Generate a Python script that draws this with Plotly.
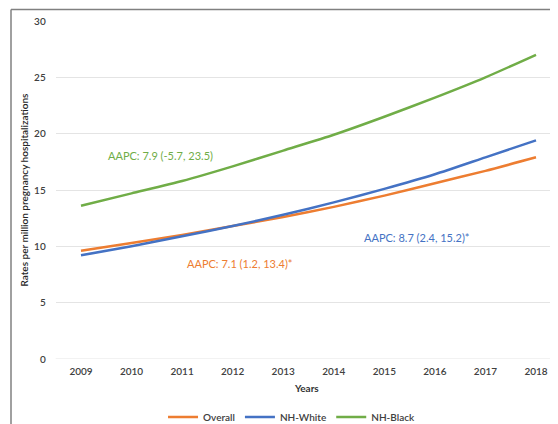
import plotly.graph_objects as go

years = [2009, 2010, 2011, 2012, 2013, 2014, 2015, 2016, 2017, 2018]
overall = [9.6, 10.3, 11.0, 11.8, 12.6, 13.5, 14.5, 15.6, 16.7, 17.9]
nh_white = [9.2, 10.0, 10.9, 11.8, 12.8, 13.9, 15.1, 16.4, 17.9, 19.4]
nh_black = [13.6, 14.7, 15.8, 17.1, 18.5, 19.9, 21.5, 23.2, 25.0, 27.0]

ORANGE = "#ED7D31"
BLUE = "#4472C4"
GREEN = "#70AD47"
TXT = "#404040"

# page has an 8px body margin, so figure is 550x416 inside the 558x424 window
W, H = 550, 416

fig = go.Figure()
for name, vals, col in [("Overall", overall, ORANGE), ("NH-White", nh_white, BLUE), ("NH-Black", nh_black, GREEN)]:
    fig.add_trace(go.Scatter(x=years, y=vals, name=name, mode="lines",
                             line=dict(color=col, width=2.5, shape="spline", smoothing=0.6)))

tickfont = dict(size=10, color=TXT, weight=600)

fig.update_layout(
    width=W, height=H,
    margin=dict(l=0, r=0, t=0, b=0, autoexpand=False),
    paper_bgcolor="white", plot_bgcolor="white",
    font=dict(family="Lato, Open Sans, sans-serif", size=10, color=TXT),
    showlegend=True,
    legend=dict(orientation="h", x=0.5155, xanchor="center", y=0.0168, yanchor="middle",
                font=dict(size=10, color=TXT, weight=600), itemwidth=30, tracegroupgap=0,
                bgcolor="rgba(0,0,0,0)"),
    xaxis=dict(domain=[47.7 / W, 1], range=[2008.5, 2018.435], tickmode="array", tickvals=years,
               automargin=False, ticktext=[str(y) for y in years], showgrid=False, zeroline=False,
               showline=False, ticks="", tickfont=tickfont, ticklabelstandoff=5,
               title=dict(text="Years", font=dict(size=10, color="#333333", weight=700), standoff=8)),
    yaxis=dict(domain=[65 / H, 1 - 13 / H], range=[0, 30], dtick=5, showgrid=True,
               gridcolor="#E4E4E4", gridwidth=1, zeroline=False, showline=False, ticks="",
               ticklabelstandoff=9, automargin=False, tickfont=tickfont,
               title=dict(text="Rates per million pregnancy hospitalizations",
                          font=dict(size=10, color="#262626", weight=600), standoff=3)),
)

# bottom gridline at 0
fig.add_shape(type="line", xref="x domain", yref="y", x0=0, x1=1, y0=0, y1=0,
              line=dict(color="#E4E4E4", width=1), layer="below")

# outer frame (left and top edges visible)
fx, fy = 3 / W, 1 - 1.5 / H
fig.add_shape(type="line", xref="paper", yref="paper", x0=fx, x1=fx, y0=fy, y1=0,
              line=dict(color="#808080", width=1.5))
fig.add_shape(type="line", xref="paper", yref="paper", x0=fx, x1=1, y0=fy, y1=fy,
              line=dict(color="#808080", width=1.5))

fig.add_annotation(x=2010.58, y=18.05, text="AAPC: 7.9 (-5.7, 23.5)", showarrow=False,
                   font=dict(size=11, color=GREEN))
fig.add_annotation(x=2012.15, y=8.5, text="AAPC: 7.1 (1.2, 13.4)*", showarrow=False,
                   font=dict(size=11, color=ORANGE))
fig.add_annotation(x=2015.65, y=10.8, text="AAPC: 8.7 (2.4, 15.2)*", showarrow=False,
                   font=dict(size=11, color=BLUE))

fig.write_html("out.html")
